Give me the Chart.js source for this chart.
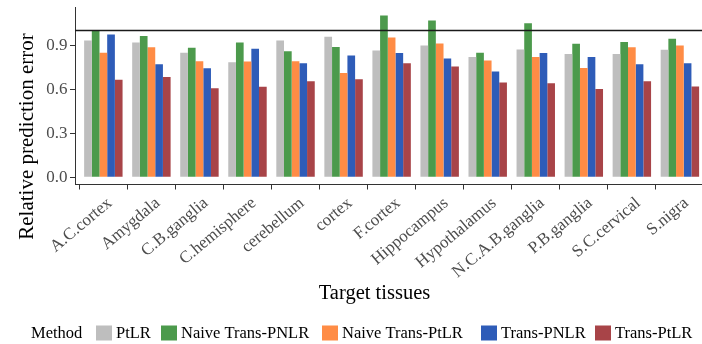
<!DOCTYPE html>
<html>
<head>
<meta charset="utf-8">
<script src="https://cdn.jsdelivr.net/npm/chart.js@4/dist/chart.umd.min.js"></script>
<style>
  html, body { margin: 0; padding: 0; background: #ffffff; }
  #wrap { width: 702px; height: 344px; position: relative; }
</style>
</head>
<body>
<div id="wrap"><canvas id="chart"></canvas></div>
<script>
// Target tissues on the x axis
const tissues = ['A.C.cortex', 'Amygdala', 'C.B.ganglia', 'C.hemisphere', 'cerebellum', 'cortex',
  'F.cortex', 'Hippocampus', 'Hypothalamus', 'N.C.A.B.ganglia', 'P.B.ganglia', 'S.C.cervical', 'S.nigra'];

// Methods compared
const methods = ['PtLR', 'Naive Trans-PNLR', 'Naive Trans-PtLR', 'Trans-PNLR', 'Trans-PtLR'];
const methodColors = ['#BEBEBE', '#4C9A4C', '#FF8C45', '#2E5CB8', '#A84448'];

// Relative prediction error per method, one value per tissue
const ptlr           = [0.931, 0.918, 0.849, 0.784, 0.931, 0.958, 0.863, 0.897, 0.820, 0.870, 0.840, 0.840, 0.868];
const naiveTransPNLR = [0.998, 0.963, 0.883, 0.918, 0.859, 0.888, 1.102, 1.068, 0.849, 1.050, 0.909, 0.922, 0.943];
const naiveTransPtLR = [0.849, 0.886, 0.791, 0.788, 0.791, 0.711, 0.952, 0.911, 0.795, 0.820, 0.745, 0.886, 0.897];
const transPNLR      = [0.972, 0.770, 0.743, 0.875, 0.777, 0.829, 0.847, 0.809, 0.720, 0.847, 0.820, 0.770, 0.777];
const transPtLR      = [0.665, 0.684, 0.607, 0.616, 0.654, 0.668, 0.777, 0.754, 0.645, 0.641, 0.602, 0.654, 0.618];

const seriesValues = [ptlr, naiveTransPNLR, naiveTransPtLR, transPNLR, transPtLR];

// Y axis tick labels and the reference level line
const yTicks = [0.0, 0.3, 0.6, 0.9];
const referenceLevel = 1.0;

const SERIF = '"Liberation Serif", "Times New Roman", serif';
const AXIS_COLOR = '#333333';
const TICK_TEXT = '#4D4D4D';
const TICK_FONT_SIZE = 17;
const LABEL_ANGLE = 40;

// Horizontal reference line drawn on top of the bars
const referenceLine = {
  id: 'referenceLine',
  afterDatasetsDraw(chart) {
    const { ctx, chartArea, scales } = chart;
    const y = scales.y.getPixelForValue(referenceLevel);
    ctx.save();
    ctx.strokeStyle = '#1A1A1A';
    ctx.lineWidth = 1.4;
    ctx.beginPath();
    ctx.moveTo(chartArea.left, y);
    ctx.lineTo(chartArea.right, y);
    ctx.stroke();
    ctx.restore();
  }
};

// Rotated tissue names, right/top justified at each tick
const rotatedTissueLabels = {
  id: 'rotatedTissueLabels',
  afterDraw(chart) {
    const { ctx, chartArea, scales } = chart;
    ctx.save();
    ctx.fillStyle = TICK_TEXT;
    ctx.font = TICK_FONT_SIZE + 'px ' + SERIF;
    ctx.textAlign = 'right';
    ctx.textBaseline = 'top';
    tissues.forEach((name, i) => {
      const x = scales.x.getPixelForValue(i);
      ctx.save();
      ctx.translate(x + 1, chartArea.bottom + 10);
      ctx.rotate(-LABEL_ANGLE * Math.PI / 180);
      ctx.fillText(name, 0, 0);
      ctx.restore();
    });
    ctx.restore();
  }
};

// Axis titles and the horizontal "Method" legend
const titlesAndLegend = {
  id: 'titlesAndLegend',
  afterDraw(chart) {
    const { ctx } = chart;
    ctx.save();
    ctx.fillStyle = '#000000';
    ctx.textAlign = 'center';
    ctx.textBaseline = 'alphabetic';
    ctx.font = '20.5px ' + SERIF;
    ctx.fillText('Target tissues', 374.5, 298.5);

    ctx.save();
    ctx.font = '21px ' + SERIF;
    ctx.translate(33, 136.5);
    ctx.rotate(-Math.PI / 2);
    ctx.fillText('Relative prediction error', 0, 0);
    ctx.restore();

    ctx.font = '16.5px ' + SERIF;
    ctx.textAlign = 'left';
    ctx.fillText('Method', 31, 337.5);
    const keyX = [96, 161, 322, 481, 595];
    chart.data.datasets.forEach((ds, i) => {
      ctx.fillStyle = ds.backgroundColor;
      ctx.fillRect(keyX[i], 325.5, 16, 15);
      ctx.fillStyle = '#000000';
      ctx.fillText(ds.label, keyX[i] + 20, 337.5);
    });
    ctx.restore();
  }
};

const datasets = methods.map((name, k) => ({
  label: name,
  data: seriesValues[k].map((v, i) => ({ x: i, y: v })),
  backgroundColor: methodColors[k],
  borderWidth: 0,
  categoryPercentage: 0.8,
  barPercentage: 1.0
}));

new Chart(document.getElementById('chart'), {
  type: 'bar',
  data: { datasets },
  plugins: [referenceLine, rotatedTissueLabels, titlesAndLegend],
  options: {
    responsive: true,
    maintainAspectRatio: false,
    animation: false,
    layout: { padding: { left: 0, right: 0, top: 7, bottom: 0 } },
    plugins: { legend: { display: false }, tooltip: { enabled: false } },
    scales: {
      x: {
        type: 'linear',
        min: -0.59,
        max: 12.46,
        offset: false,
        afterBuildTicks: s => { s.ticks = tissues.map((_, i) => ({ value: i })); },
        afterFit: s => {
          s.height = 344 - 184.5;
          s.paddingLeft = 0; s.paddingRight = 0;
        },
        ticks: { display: false, autoSkip: false },
        grid: { display: true, drawOnChartArea: false, drawTicks: true, tickLength: 5, color: AXIS_COLOR, lineWidth: 1 },
        border: { display: true, color: AXIS_COLOR, width: 1 }
      },
      y: {
        min: -0.049,
        max: 1.16,
        afterBuildTicks: s => { s.ticks = yTicks.map(v => ({ value: v })); },
        afterFit: s => {
          s.width = 75;
          s.paddingTop = 0; s.paddingBottom = 0;
        },
        ticks: {
          padding: 2.5,
          color: TICK_TEXT,
          font: { family: SERIF, size: TICK_FONT_SIZE },
          callback: v => Number(v).toFixed(1)
        },
        grid: { display: true, drawOnChartArea: false, drawTicks: true, tickLength: 5, color: AXIS_COLOR, lineWidth: 1 },
        border: { display: true, color: AXIS_COLOR, width: 1 }
      }
    }
  }
});
</script>
</body>
</html>
